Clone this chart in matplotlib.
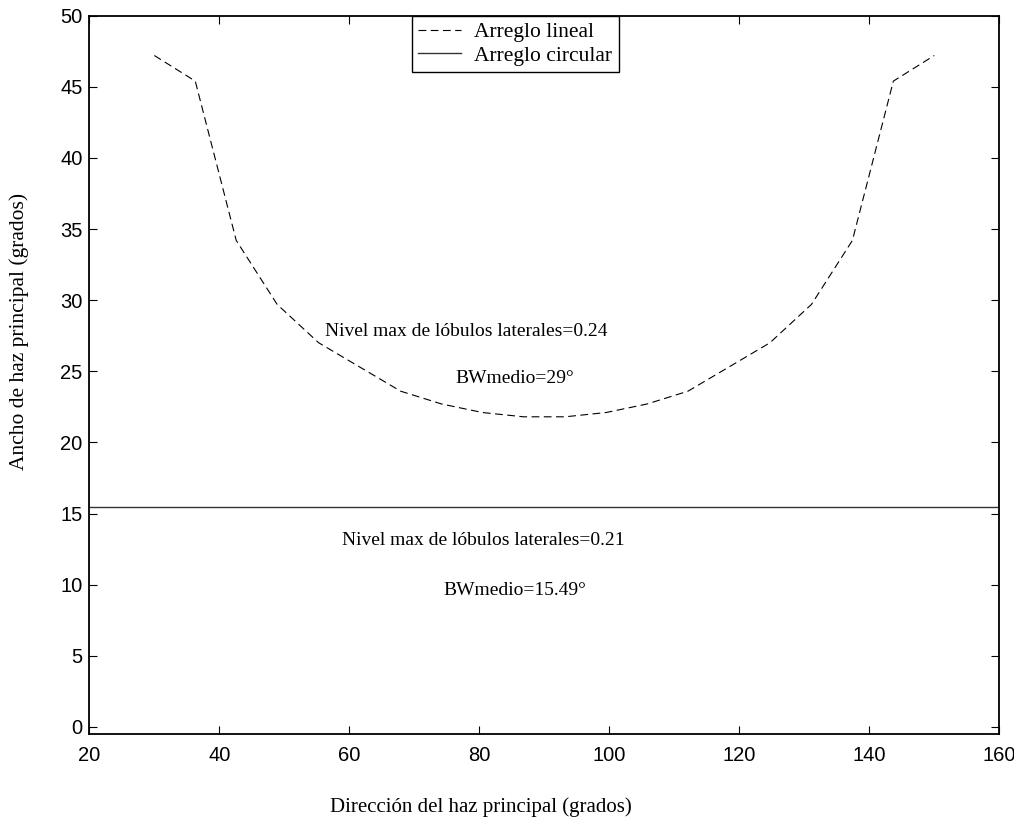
import numpy as np
import matplotlib
matplotlib.use("Agg")
import matplotlib.pyplot as plt

# direction of main beam (deg), 20 steps between 30 and 150
dir_lin = [30.0, 36.3, 42.6, 48.9, 55.3, 61.6, 67.9, 74.2, 80.5, 86.8,
           93.2, 99.5, 105.8, 112.1, 118.4, 124.7, 131.1, 137.4, 143.7, 150.0]
bw_lin = [47.2, 45.4, 34.2, 29.7, 27.0, 25.3, 23.6, 22.7, 22.1, 21.8,
          21.8, 22.1, 22.7, 23.6, 25.3, 27.0, 29.7, 34.2, 45.4, 47.2]

dir_circ = [20.0, 160.0]
bw_circ = [15.49, 15.49]

xticks = [20, 40, 60, 80, 100, 120, 140, 160]
yticks = [0, 5, 10, 15, 20, 25, 30, 35, 40, 45, 50]

serif = "Liberation Serif"
sans = "Liberation Sans"

fig = plt.figure(figsize=(10.14, 8.17), dpi=100)
ax = fig.add_axes([0.0881, 0.1016, 0.8974, 0.8792])

ax.plot(dir_lin, bw_lin, color="black", lw=0.8, ls=(0, (7, 4)), label="Arreglo lineal")
ax.plot(dir_circ, bw_circ, color="#333333", lw=1.0, ls="-", label="Arreglo circular")

ax.set_xlim(20, 160)
ax.set_ylim(-0.5, 50)
ax.set_xticks(xticks)
ax.set_yticks(yticks)

ax.tick_params(direction="in", length=6, width=0.8, top=True, right=True,
               labelsize=14.5)
ax.tick_params(axis="x", pad=9)
ax.tick_params(axis="y", pad=5)
for lab in ax.get_xticklabels() + ax.get_yticklabels():
    lab.set_fontfamily(sans)
for s in ax.spines.values():
    s.set_linewidth(1.3)

ax.set_xlabel("Dirección del haz principal (grados)", fontfamily=serif, fontsize=15)
ax.set_ylabel("Ancho de haz principal (grados)", fontfamily=serif, fontsize=15.5)
ax.xaxis.set_label_coords(0.43, -0.088)
ax.yaxis.set_label_coords(-0.066, 0.56)

ax.text(56.3, 27.8, "Nivel max de lóbulos laterales=0.24", fontfamily=serif,
        fontsize=14, va="center", ha="left")
ax.text(76.3, 24.5, "BWmedio=29°", fontfamily=serif, fontsize=14, va="center", ha="left")
ax.text(58.8, 13.1, "Nivel max de lóbulos laterales=0.21", fontfamily=serif,
        fontsize=14, va="center", ha="left")
ax.text(74.4, 9.6, "BWmedio=15.49°", fontfamily=serif, fontsize=14, va="center", ha="left")

leg = ax.legend(loc="upper center", bbox_to_anchor=(0.468, 1.0), frameon=True,
                fancybox=False, shadow=False, framealpha=1.0, borderaxespad=0.0,
                prop={"family": serif, "size": 15.5}, handlelength=2.0,
                handletextpad=0.6, labelspacing=0.15, borderpad=0.3)
leg.get_frame().set_edgecolor("black")
leg.get_frame().set_linewidth(1.0)

fig.savefig("out.png", dpi=100)
